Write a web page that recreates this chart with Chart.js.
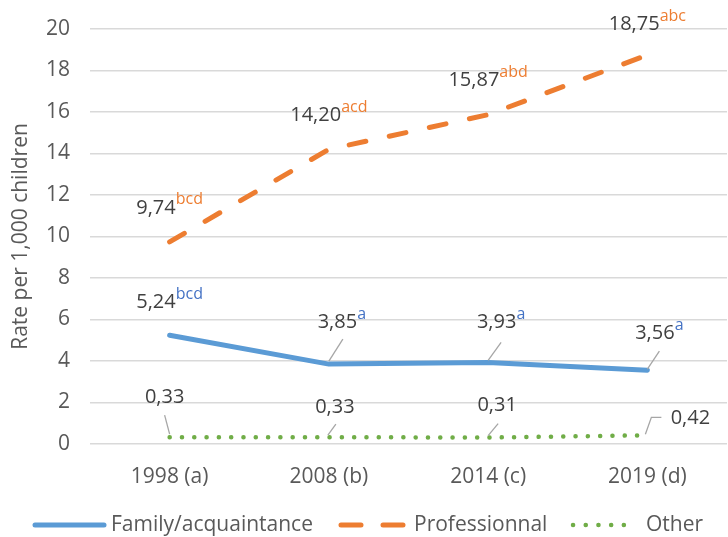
<!DOCTYPE html>
<html>
<head>
<meta charset="utf-8">
<script src="https://cdn.jsdelivr.net/npm/chart.js@4"></script>
<style>
  html, body { margin: 0; padding: 0; background: #fff; }
  #chart { display: block; }
</style>
</head>
<body>
<canvas id="chart" width="728" height="537"></canvas>
<script>
// data
var years = ['1998 (a)', '2008 (b)', '2014 (c)', '2019 (d)'];
var familyRates = [5.24, 3.85, 3.93, 3.56];
var professionalRates = [9.74, 14.20, 15.87, 18.75];
var otherRates = [0.33, 0.33, 0.31, 0.42];
var familySup = ['bcd', 'a', 'a', 'a'];
var professionalSup = ['bcd', 'acd', 'abd', 'abc'];
var otherSup = ['', '', '', ''];
var seriesNames = ['Family/acquaintance', 'Professionnal', 'Other'];
var yTicks = [0, 2, 4, 6, 8, 10, 12, 14, 16, 18, 20];

var FONT = '"Open Sans", Lato, sans-serif';

// label placement relative to each point (dx, dy = centre of text), leader line points
var labelStyle = [
  [
    { dx: 0, dy: -33 },
    { dx: 13, dy: -42, leader: [[0, -3], [14, -25]] },
    { dx: 13, dy: -40, leader: [[0, -2], [13, -20]] },
    { dx: 12, dy: -37, leader: [[0, -1], [12, -19]] }
  ],
  [
    { dx: 0, dy: -34 },
    { dx: 0, dy: -34 },
    { dx: 0, dy: -34 },
    { dx: 0, dy: -31 }
  ],
  [
    { dx: -5, dy: -40, leader: [[0, -3], [-5, -22]] },
    { dx: 6, dy: -30, leader: [[-1, -2], [7, -13]] },
    { dx: 9, dy: -32, leader: [[0, -2], [10, -14]] },
    { dx: 43, dy: -17, leader: [[-2, -1], [4, -18], [14, -18]] }
  ]
];
var supColors = ['#4472C4', '#ED7D31', '#70AD47'];
var supTexts = [familySup, professionalSup, otherSup];

var labelsPlugin = {
  id: 'pointLabels',
  afterDatasetsDraw: function(chart) {
    var ctx = chart.ctx;
    chart.data.datasets.forEach(function(ds, di) {
      var meta = chart.getDatasetMeta(di);
      meta.data.forEach(function(pt, i) {
        var st = labelStyle[di][i];
        var main = ds.data[i].toFixed(2).replace('.', ',');
        var sup = supTexts[di][i];
        ctx.save();
        if (st.leader) {
          ctx.strokeStyle = '#a6a6a6';
          ctx.lineWidth = 1.3;
          ctx.beginPath();
          st.leader.forEach(function(p, k) {
            if (k === 0) ctx.moveTo(pt.x + p[0], pt.y + p[1]);
            else ctx.lineTo(pt.x + p[0], pt.y + p[1]);
          });
          ctx.stroke();
        }
        ctx.font = '20px ' + FONT;
        var wMain = ctx.measureText(main).width;
        ctx.font = '16px ' + FONT;
        var wSup = sup ? ctx.measureText(sup).width : 0;
        var x0 = pt.x + st.dx - (wMain + wSup) / 2;
        var yc = pt.y + st.dy;
        ctx.textBaseline = 'middle';
        ctx.textAlign = 'left';
        ctx.font = '20px ' + FONT;
        ctx.fillStyle = '#404040';
        ctx.fillText(main, x0, yc);
        if (sup) {
          ctx.font = '16px ' + FONT;
          ctx.fillStyle = supColors[di];
          ctx.fillText(sup, x0 + wMain, yc - 8);
        }
        ctx.restore();
      });
    });

    // legend
    var items = [
      { x1: 35, x2: 104, tx: 111 },
      { x1: 339, x2: 404, tx: 414 },
      { x1: 573, x2: 636, tx: 646 }
    ];
    var ly = 525;
    chart.data.datasets.forEach(function(ds, di) {
      var it = items[di];
      ctx.save();
      ctx.strokeStyle = ds.borderColor;
      ctx.lineWidth = ds.borderWidth;
      ctx.lineCap = 'round';
      ctx.setLineDash(di === 1 ? [20, 22] : (di === 2 ? [0.1, 12.6] : []));
      ctx.beginPath();
      ctx.moveTo(it.x1 + (di === 1 ? 2 : 0), ly);
      ctx.lineTo(it.x2, ly);
      ctx.stroke();
      ctx.setLineDash([]);
      ctx.font = '21px ' + FONT;
      ctx.fillStyle = '#595959';
      ctx.textBaseline = 'middle';
      ctx.fillText(seriesNames[di], it.tx, ly);
      ctx.restore();
    });
  }
};

var ctx = document.getElementById('chart').getContext('2d');
var rateChart = new Chart(ctx, {
  type: 'line',
  data: {
    labels: years,
    datasets: [{
      label: seriesNames[0],
      data: familyRates,
      borderColor: '#5B9BD5',
      borderWidth: 5,
      borderCapStyle: 'round',
      borderJoinStyle: 'round',
      pointRadius: 0,
      fill: false
    }, {
      label: seriesNames[1],
      data: professionalRates,
      borderColor: '#ED7D31',
      borderWidth: 5,
      borderDash: [17, 24],
      borderCapStyle: 'round',
      borderJoinStyle: 'round',
      pointRadius: 0,
      fill: false
    }, {
      label: seriesNames[2],
      data: otherRates,
      borderColor: '#70AD47',
      borderWidth: 4.5,
      borderDash: [0.1, 12.2],
      borderCapStyle: 'round',
      pointRadius: 0,
      fill: false
    }]
  },
  options: {
    responsive: false,
    animation: false,
    layout: { padding: { top: 29, right: 1, bottom: 43, left: 0 } },
    plugins: {
      legend: { display: false },
      tooltip: { enabled: false }
    },
    scales: {
      x: {
        offset: true,
        grid: { display: false },
        border: { display: false },
        ticks: { color: '#595959', font: { family: FONT, size: 21 }, padding: 12 },
        afterFit: function(s) { s.height = 50; s.paddingLeft = 0; s.paddingRight = 0; }
      },
      y: {
        min: 0,
        max: 20,
        afterBuildTicks: function(s) { s.ticks = yTicks.map(function(v) { return { value: v }; }); },
        grid: { color: '#d9d9d9', lineWidth: 1.5, drawTicks: false },
        border: { display: false },
        ticks: { color: '#595959', font: { family: FONT, size: 21 }, padding: 20 },
        title: {
          display: true,
          text: 'Rate per 1,000 children',
          color: '#595959',
          font: { family: FONT, size: 21 },
          padding: { top: 8, bottom: 0 }
        },
        afterFit: function(s) { s.width = 90; s.paddingTop = 0; s.paddingBottom = 0; }
      }
    }
  },
  plugins: [labelsPlugin]
});
</script>
</body>
</html>
